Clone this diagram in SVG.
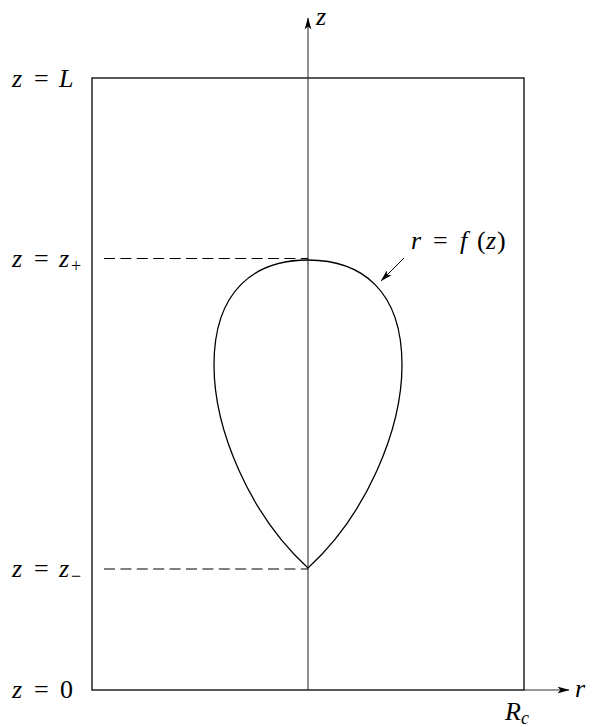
<svg xmlns="http://www.w3.org/2000/svg" width="592" height="727" viewBox="0 0 592 727">
<style>
.ln{fill:none;stroke:#000;stroke-width:1.3}
.ax{fill:none;stroke:#333;stroke-width:1.1}
.dash{fill:none;stroke:#000;stroke-width:1.2;stroke-dasharray:11 5.4}
</style>
<defs>
<marker id="arr" viewBox="0 0 12 8" refX="11.5" refY="4" markerWidth="12" markerHeight="8" markerUnits="userSpaceOnUse" orient="auto">
<path d="M0,0.6 L12,4 L0,7.4 L3,4 Z" fill="#000"/>
</marker>
</defs>
<g id="box">
<rect x="92" y="78" width="432" height="612" class="ln"/>
</g>
<g id="connectors">
<line id="z-axis" x1="308" y1="690" x2="308" y2="18" class="ax" marker-end="url(#arr)"/>
<line id="r-axis" x1="524" y1="690" x2="569" y2="690" class="ax" marker-end="url(#arr)"/>
<line id="dash-plus" x1="104" y1="258.5" x2="308" y2="258.5" class="dash"/>
<line id="dash-minus" x1="104" y1="569" x2="308" y2="569" class="dash"/>
<line id="f-pointer" x1="404" y1="258" x2="381" y2="281" stroke="#000" stroke-width="1" marker-end="url(#arr)"/>
</g>
<g id="surface">
<path class="ln" d="M308,260 C255,260 214,290 214,365 C214,430 250,515 308,568 C366,515 402,430 402,365 C402,290 361,260 308,260 Z"/>
</g>
<g id="labels">
<text x="316" y="25" font-family="Liberation Serif, serif" font-size="26" font-style="italic">z</text>
<text x="575" y="697" font-family="Liberation Serif, serif" font-size="26" font-style="italic">r</text>
<text x="505" y="720" font-family="Liberation Serif, serif" font-size="26" font-style="italic">R<tspan font-family="Liberation Serif, serif" font-size="18" dy="4">c</tspan></text>
<text y="87" font-family="Liberation Serif, serif" font-size="26"><tspan x="12" font-style="italic">z</tspan><tspan x="34">=</tspan><tspan x="59" font-style="italic">L</tspan></text>
<text y="267" font-family="Liberation Serif, serif" font-size="26"><tspan x="12" font-style="italic">z</tspan><tspan x="34">=</tspan><tspan x="59" font-style="italic">z</tspan><tspan x="71" font-family="Liberation Serif, serif" font-size="18" dy="5">+</tspan></text>
<text y="577" font-family="Liberation Serif, serif" font-size="26"><tspan x="12" font-style="italic">z</tspan><tspan x="34">=</tspan><tspan x="59" font-style="italic">z</tspan><tspan x="71" font-family="Liberation Serif, serif" font-size="18" dy="5">−</tspan></text>
<text y="698" font-family="Liberation Serif, serif" font-size="26"><tspan x="12" font-style="italic">z</tspan><tspan x="34">=</tspan><tspan x="60">0</tspan></text>
<text y="249" font-family="Liberation Serif, serif" font-size="26"><tspan x="411" font-style="italic">r</tspan><tspan x="433">=</tspan><tspan x="460" font-style="italic">f</tspan><tspan x="477">(</tspan><tspan x="486" font-style="italic">z</tspan><tspan x="497">)</tspan></text>
</g>
</svg>
